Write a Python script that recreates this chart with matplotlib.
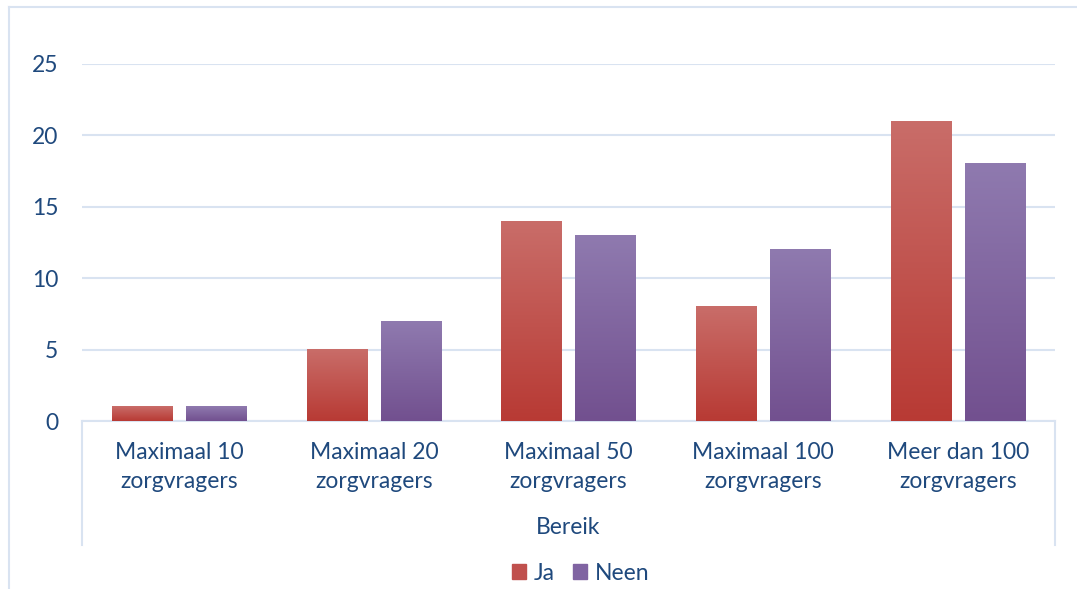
import numpy as np
import matplotlib
matplotlib.use("Agg")
import matplotlib.pyplot as plt
from matplotlib.colors import LinearSegmentedColormap
from matplotlib.lines import Line2D
from matplotlib.patches import Patch

categories = [
    "Maximaal 10\nzorgvragers",
    "Maximaal 20\nzorgvragers",
    "Maximaal 50\nzorgvragers",
    "Maximaal 100\nzorgvragers",
    "Meer dan 100\nzorgvragers",
]
ja = [1, 5, 14, 8, 21]
neen = [1, 7, 13, 12, 18]
yticks = [0, 5, 10, 15, 20, 25]

TEXT = "#1F497D"
GRID = "#D9E3F1"

plt.rcParams["font.family"] = ["Lato", "DejaVu Sans"]

W, H = 1077, 589
fig = plt.figure(figsize=(W / 100, H / 100), dpi=100)

# plot area in pixel coordinates
left, right, top, bottom = 82, 1055, 64, 421
ax = fig.add_axes([left / W, 1 - bottom / H, (right - left) / W, (bottom - top) / H])

x = np.arange(len(categories))
width = 0.31
offset = 0.19

red_cmap = LinearSegmentedColormap.from_list("red", ["#B83A34", "#C96D69"])
purple_cmap = LinearSegmentedColormap.from_list("purple", ["#72508F", "#8F7AAF"])


def gradient_bars(xs, values, cmap):
    bars = ax.bar(xs, values, width=width, color="none", zorder=3)
    grad = np.linspace(0, 1, 256).reshape(-1, 1)
    for b in bars:
        x0, y0 = b.get_x(), b.get_y()
        ax.imshow(grad, cmap=cmap, origin="lower", aspect="auto",
                  extent=(x0, x0 + b.get_width(), y0, y0 + b.get_height()),
                  zorder=3, interpolation="bilinear")
    return bars


gradient_bars(x - offset, ja, red_cmap)
gradient_bars(x + offset, neen, purple_cmap)

ax.set_xlim(-0.5, len(categories) - 0.5)
ax.set_ylim(0, 25)
ax.set_yticks(yticks)
ax.set_yticklabels([str(t) for t in yticks])
ax.grid(axis="y", color=GRID, linewidth=1.5, zorder=0)
ax.set_axisbelow(True)

for s in ["left", "right", "top"]:
    ax.spines[s].set_visible(False)
ax.spines["bottom"].set_color(GRID)
ax.spines["bottom"].set_linewidth(1.5)

ax.tick_params(axis="y", length=0, pad=17, labelsize=16.5, labelcolor=TEXT)
ax.tick_params(axis="x", length=0, pad=15, labelsize=16.5, labelcolor=TEXT)
ax.set_xticks(x)
ax.set_xticklabels(categories, linespacing=1.5)

# group label and separators of the two-level category axis
depth = -(545 - bottom) / (bottom - top)
for xv in [-0.5, len(categories) - 0.5]:
    ax.plot([xv, xv], [0, depth], transform=ax.get_xaxis_transform(),
            color=GRID, linewidth=1.5, clip_on=False)
ax.text((len(categories) - 1) / 2, -(528 - bottom) / (bottom - top), "Bereik",
        transform=ax.get_xaxis_transform(), ha="center", va="center",
        fontsize=16.5, color=TEXT)

# chart border
fig.add_artist(Line2D([9 / W, 9 / W], [0, 1 - 7 / H], color=GRID, linewidth=1.5))
fig.add_artist(Line2D([9 / W, 1], [1 - 7 / H, 1 - 7 / H], color=GRID, linewidth=1.5))

handles = [Patch(color="#C0504D", label="Ja"), Patch(color="#8064A2", label="Neen")]
fig.legend(handles=handles, loc="center", bbox_to_anchor=(581 / W, 1 - 573 / H),
           ncol=2, frameon=False, fontsize=16.5, labelcolor=TEXT,
           handlelength=0.6, handleheight=0.6, handletextpad=0.35, columnspacing=0.8)

fig.savefig("out.png", dpi=100)
